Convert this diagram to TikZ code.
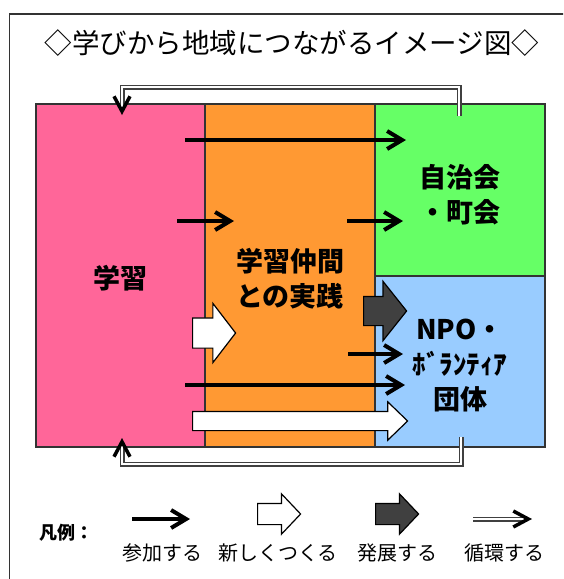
\documentclass[tikz,border=0pt]{standalone}
\usepackage{fontspec}
\setmainfont{Noto Sans CJK JP}
\usepackage{tikz}
\usetikzlibrary{positioning}
\usetikzlibrary{arrows.meta,shapes.arrows}

\definecolor{learncol}{HTML}{FF6699}
\definecolor{practcol}{HTML}{FF9933}
\definecolor{civiccol}{HTML}{66FF66}
\definecolor{groupcol}{HTML}{99CCFF}
\definecolor{growcol}{HTML}{404040}

\tikzset{
  area/.style={draw=black!80, line width=1.5pt, inner sep=0pt, outer sep=0pt,
    minimum width=170pt},
  areatext/.style={align=center, font=\fontsize{27}{35}\selectfont\bfseries},
  takepart/.style={line width=4pt, -{Straight Barb[length=15pt,width=18pt]}},
  newarrow/.style={single arrow, draw=black, fill=white, line width=1.2pt,
    inner xsep=0pt, anchor=tail},
  growarrow/.style={newarrow, fill=growcol},
  loopline/.style={draw=black!75, line width=1.2pt, double=white, double distance=2.6pt,
    -{Straight Barb[length=15pt,width=16pt,line width=3.5pt,color=black]}},
  legendtext/.style={font=\fontsize{20}{24}\selectfont}
}

\begin{document}
\begin{tikzpicture}[x=1pt,y=-1pt]
  \useasboundingbox (0,0) rectangle (563,579);
  \clip (0,0) rectangle (563,579);
  \draw[line width=1.5pt, draw=black!80] (9.5,14) rectangle (620,640);

  \node (title) at (292,43) [font=\fontsize{27.5}{32}\selectfont] {◇学びから地域につながるイメージ図◇};

  % the four areas
  \node[area, fill=learncol, minimum width=169pt, minimum height=343pt] (learn) at (120.5,275.5) {};
  \node[area, fill=practcol, minimum height=343pt] (practice) [right=0pt of learn] {};
  \node[area, fill=civiccol, minimum height=172pt] (civic) [below right=0pt and 0pt of practice.north east] {};
  \node[area, fill=groupcol, minimum height=171pt] (group) [below=0pt of civic] {};

  \node[areatext] (learntext) at ([yshift=-3pt]learn.center) {学習};
  \node[areatext] (practicetext) at ([yshift=-3pt]practice.center) {学習仲間\\との実践};
  \node[areatext] (civictext) at ([yshift=-4.5pt]civic.center) {自治会\\・町会};
  \node[areatext] (grouptext) at ([yshift=-4.5pt]group.center) {NPO・\\ﾎﾞﾗﾝﾃｨｱ\\団体};

  % ends of the arrows
  \coordinate (j1a) at (185,140);  \coordinate (j1b) at (406,140);
  \coordinate (j2a) at (177,221);  \coordinate (j2b) at (234,221);
  \coordinate (j3a) at (347,221);  \coordinate (j3b) at (403,221);
  \coordinate (j4a) at (348,354);  \coordinate (j4b) at (403,354);
  \coordinate (j5a) at (185,385);  \coordinate (j5b) at (405,385);
  \coordinate (toploop) at (459,116);  \coordinate (toplearn) at (122,115);
  \coordinate (botloop) at (461,437);  \coordinate (botlearn) at (122,438);

  \draw[takepart] (j1a) -- (j1b);
  \draw[takepart] (j2a) -- (j2b);
  \draw[takepart] (j3a) -- (j3b);
  \draw[takepart] (j4a) -- (j4b);
  \draw[takepart] (j5a) -- (j5b);

  \node[newarrow, minimum height=43pt, inner ysep=14.5pt, single arrow head extend=14.5pt,
    single arrow tip angle=105] (new1) at (192,333) {};
  \node[newarrow, minimum height=215pt, inner ysep=9pt, single arrow head extend=9.5pt,
    single arrow tip angle=88] (new2) at (192,421) {};
  \node[growarrow, minimum height=43pt, inner ysep=14pt, single arrow head extend=15pt,
    single arrow tip angle=103] (grow1) at (363,311) {};

  \draw[loopline] (toploop) -- ++(0,-29) -| (toplearn);
  \draw[loopline] (botloop) -- ++(0,27) -| (botlearn);

  % legend
  \node (legend) at (66,533) [font=\fontsize{18}{22}\selectfont\bfseries] {凡例：};
  \coordinate (lg1a) at (132,519);  \coordinate (lg1b) at (190,519);
  \coordinate (lg4a) at (473,519);  \coordinate (lg4b) at (532,519);
  \draw[takepart] (lg1a) -- (lg1b);
  \node[newarrow, minimum height=43pt, inner ysep=10pt, single arrow head extend=9.5pt,
    single arrow tip angle=93] (lg2) at (257,514) {};
  \node[growarrow, minimum height=43pt, inner ysep=10pt, single arrow head extend=9.5pt,
    single arrow tip angle=93] (lg3) at (375,514) {};
  \draw[loopline] (lg4a) -- (lg4b);

  \node[legendtext] (lgt1) at (162,553) {参加する};
  \node[legendtext] (lgt2) at (278,553) {新しくつくる};
  \node[legendtext] (lgt3) at (397,553) {発展する};
  \node[legendtext] (lgt4) at (504,553) {循環する};
\end{tikzpicture}
\end{document}
